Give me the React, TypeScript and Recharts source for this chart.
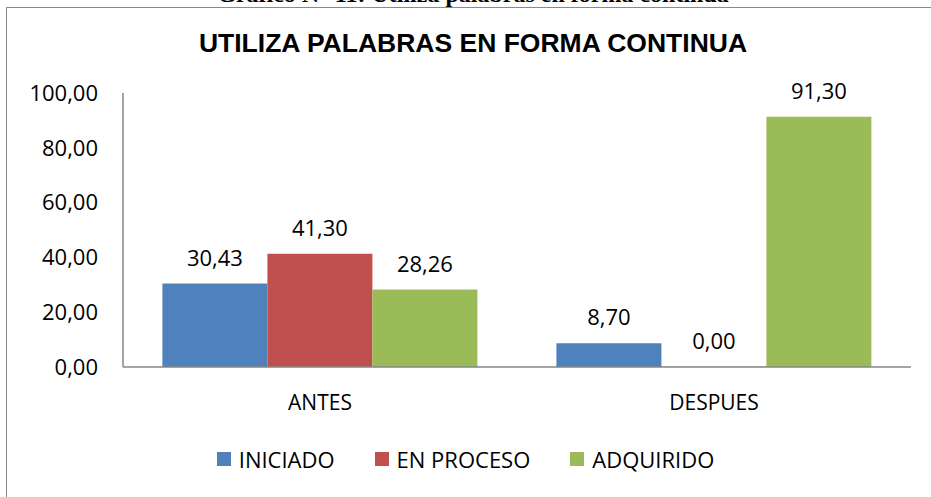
import React from 'react'
import { BarChart, Bar, XAxis, YAxis, Legend, LabelList } from 'recharts'

const categories = ['ANTES', 'DESPUES']
const iniciado = [30.43, 8.7]
const enProceso = [41.3, 0]
const adquirido = [28.26, 91.3]
const yTicks = [0, 20, 40, 60, 80, 100]

const SERIES = [
    { key: 'iniciado', name: 'INICIADO', color: '#4F81BD' },
    { key: 'enProceso', name: 'EN PROCESO', color: '#C0504D' },
    { key: 'adquirido', name: 'ADQUIRIDO', color: '#9BBB59' },
]

const data = categories.map((c, i) => ({
    name: c,
    iniciado: iniciado[i],
    enProceso: enProceso[i],
    adquirido: adquirido[i],
}))

const FONT = '"Open Sans", "Noto Sans", sans-serif'
const fmt = (v: number) => Number(v).toFixed(2).replace('.', ',')

// value label centred above each bar
const ValueLabel = (props: any) => {
    const { x, y, width, height, value } = props
    const top = Math.min(Number(y), Number(y) + Number(height))
    return (
        <text x={Number(x) + Number(width) / 2} y={top - 18} textAnchor="middle"
            fill="#000" fontSize={22} fontFamily={FONT}>
            {fmt(value)}
        </text>
    )
}

// a zero value still needs a (hair-thin) rect so its label is drawn
const minSize = (v: any) => (Number(v) === 0 ? 0.2 : 0)

const LegendContent = () => (
    <div style={{ display: 'flex', justifyContent: 'center', alignItems: 'center', fontFamily: FONT, fontSize: 22, color: '#000' }}>
        {SERIES.map((s, i) => (
            <div key={s.key} style={{ display: 'flex', alignItems: 'center', marginLeft: i === 0 ? 0 : 40 }}>
                <span style={{ display: 'inline-block', width: 14, height: 14, background: s.color, marginRight: 8 }} />
                <span>{s.name}</span>
            </div>
        ))}
    </div>
)

const App = () => {
    return (
        <div style={{ position: 'fixed', left: 0, top: 0, width: 931, height: 497, background: '#fff', overflow: 'hidden' }}>
            <div style={{
                position: 'absolute', left: 0, top: -19, width: 946, textAlign: 'center',
                fontFamily: '"Liberation Serif", serif', fontWeight: 'bold', fontSize: 24, lineHeight: '27px', whiteSpace: 'nowrap',
            }}>
                Gráfico N° 11: Utiliza palabras en forma continua
            </div>
            <div style={{ position: 'absolute', left: 6, top: 7, width: 940, height: 520, border: '1.5px solid #8a8a8a', boxSizing: 'border-box', background: '#fff' }} />
            <div style={{
                position: 'absolute', left: 0, top: 28, width: 946, textAlign: 'center',
                fontFamily: '"Liberation Sans", Arial, sans-serif', fontWeight: 'bold', fontSize: 26.5, lineHeight: '30px', whiteSpace: 'nowrap',
            }}>
                UTILIZA PALABRAS EN FORMA CONTINUA
            </div>
            <div style={{ position: 'absolute', left: 0, top: 0 }}>
                <BarChart width={931} height={497} data={data} margin={{ top: 93, right: 20, left: 0, bottom: 100 }}
                    barCategoryGap="10%" barGap={0}>
                    <XAxis dataKey="name" height={30} axisLine={{ stroke: '#868686', strokeWidth: 1.5 }} tickLine={false}
                        tickSize={0} tickMargin={28} tick={{ fill: '#000', fontSize: 21, fontFamily: FONT }} />
                    <YAxis width={123} domain={[0, 100]} ticks={yTicks} tickFormatter={fmt}
                        axisLine={{ stroke: '#868686', strokeWidth: 1.5 }} tickLine={false} tickSize={0} tickMargin={25}
                        tick={{ fill: '#000', fontSize: 22, fontFamily: FONT }} />
                    <Legend layout="horizontal" verticalAlign="middle" align="center" content={LegendContent}
                        wrapperStyle={{ top: 444, left: 0, width: 931 }} />
                    {SERIES.map(s => (
                        <Bar key={s.key} dataKey={s.key} name={s.name} fill={s.color} minPointSize={minSize as any}
                            isAnimationActive={false}>
                            <LabelList dataKey={s.key} content={ValueLabel} />
                        </Bar>
                    ))}
                </BarChart>
            </div>
        </div>
    )
}

export default App
